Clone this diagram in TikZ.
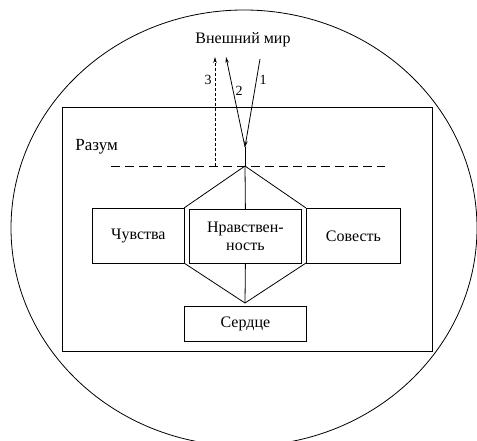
\documentclass[tikz,border=0pt]{standalone}
\usepackage{fontspec}
\setmainfont{Liberation Serif}
\usetikzlibrary{arrows.meta}
\begin{document}
\begin{tikzpicture}[x=1pt,y=-1pt,line width=0.8pt,
  box/.style={draw,rectangle,inner sep=0pt,anchor=north west,align=center,font=\fontsize{16}{18}\selectfont},
  lbl/.style={inner sep=0pt,font=\fontsize{16}{18}\selectfont},
  num/.style={inner sep=0pt,font=\fontsize{14}{16}\selectfont},
  arr/.style={-{Stealth[length=6pt,width=3.5pt]}}]
\useasboundingbox (0,0) rectangle (477,440);
\clip (0,0) rectangle (477,440);
\draw (244,228) ellipse [x radius=233, y radius=218];
\node[box,minimum width=370pt,minimum height=244pt] (mind) at (62,107) {};
\node[lbl,anchor=west] (razum) at (75,147) {\fontsize{17}{19}\selectfont Разум};
\coordinate (dl) at (111,166);
\coordinate (dr) at (385,166);
\draw[dash pattern=on 9pt off 5pt] (dl) -- (dr);
\node[box,minimum width=92pt,minimum height=55pt] (feel) at (92,208) {Чувства};
\node[box,minimum width=112pt,minimum height=54pt] (moral) at (189,209) {Нравствен-\\ность};
\node[box,minimum width=94pt,minimum height=55pt] (consc) at (306,208) {Совесть};
\node[box,minimum width=122pt,minimum height=35pt] (heart) at (184,306) {Сердце};
\coordinate (top) at (245,166);
\coordinate (bot) at (245,303);
\coordinate (ul) at (184,208);
\coordinate (ur) at (306,208);
\coordinate (ll) at (184,263);
\coordinate (lr) at (306,263);
\draw (ul) -- (top) -- (ur);
\draw (ll) -- (bot) -- (lr);
\draw (top) -- (moral.north);
\draw (moral.south) -- (bot);
\node[lbl] (world) at (243,40) {Внешний мир};
\coordinate (in) at (260,59);
\coordinate (tip) at (245,147);
\coordinate (out2) at (226,57);
\coordinate (d3) at (215,166);
\coordinate (out3) at (215,57);
\draw[arr] (in) -- (tip);
\draw (tip) -- (top);
\draw[arr] (tip) -- (out2);
\draw[arr,dash pattern=on 3pt off 2pt] (d3) -- (out3);
\node[num] (n1) at (263,80) {1};
\node[num] (n2) at (239,91) {2};
\node[num] (n3) at (208,80) {3};
\end{tikzpicture}
\end{document}
